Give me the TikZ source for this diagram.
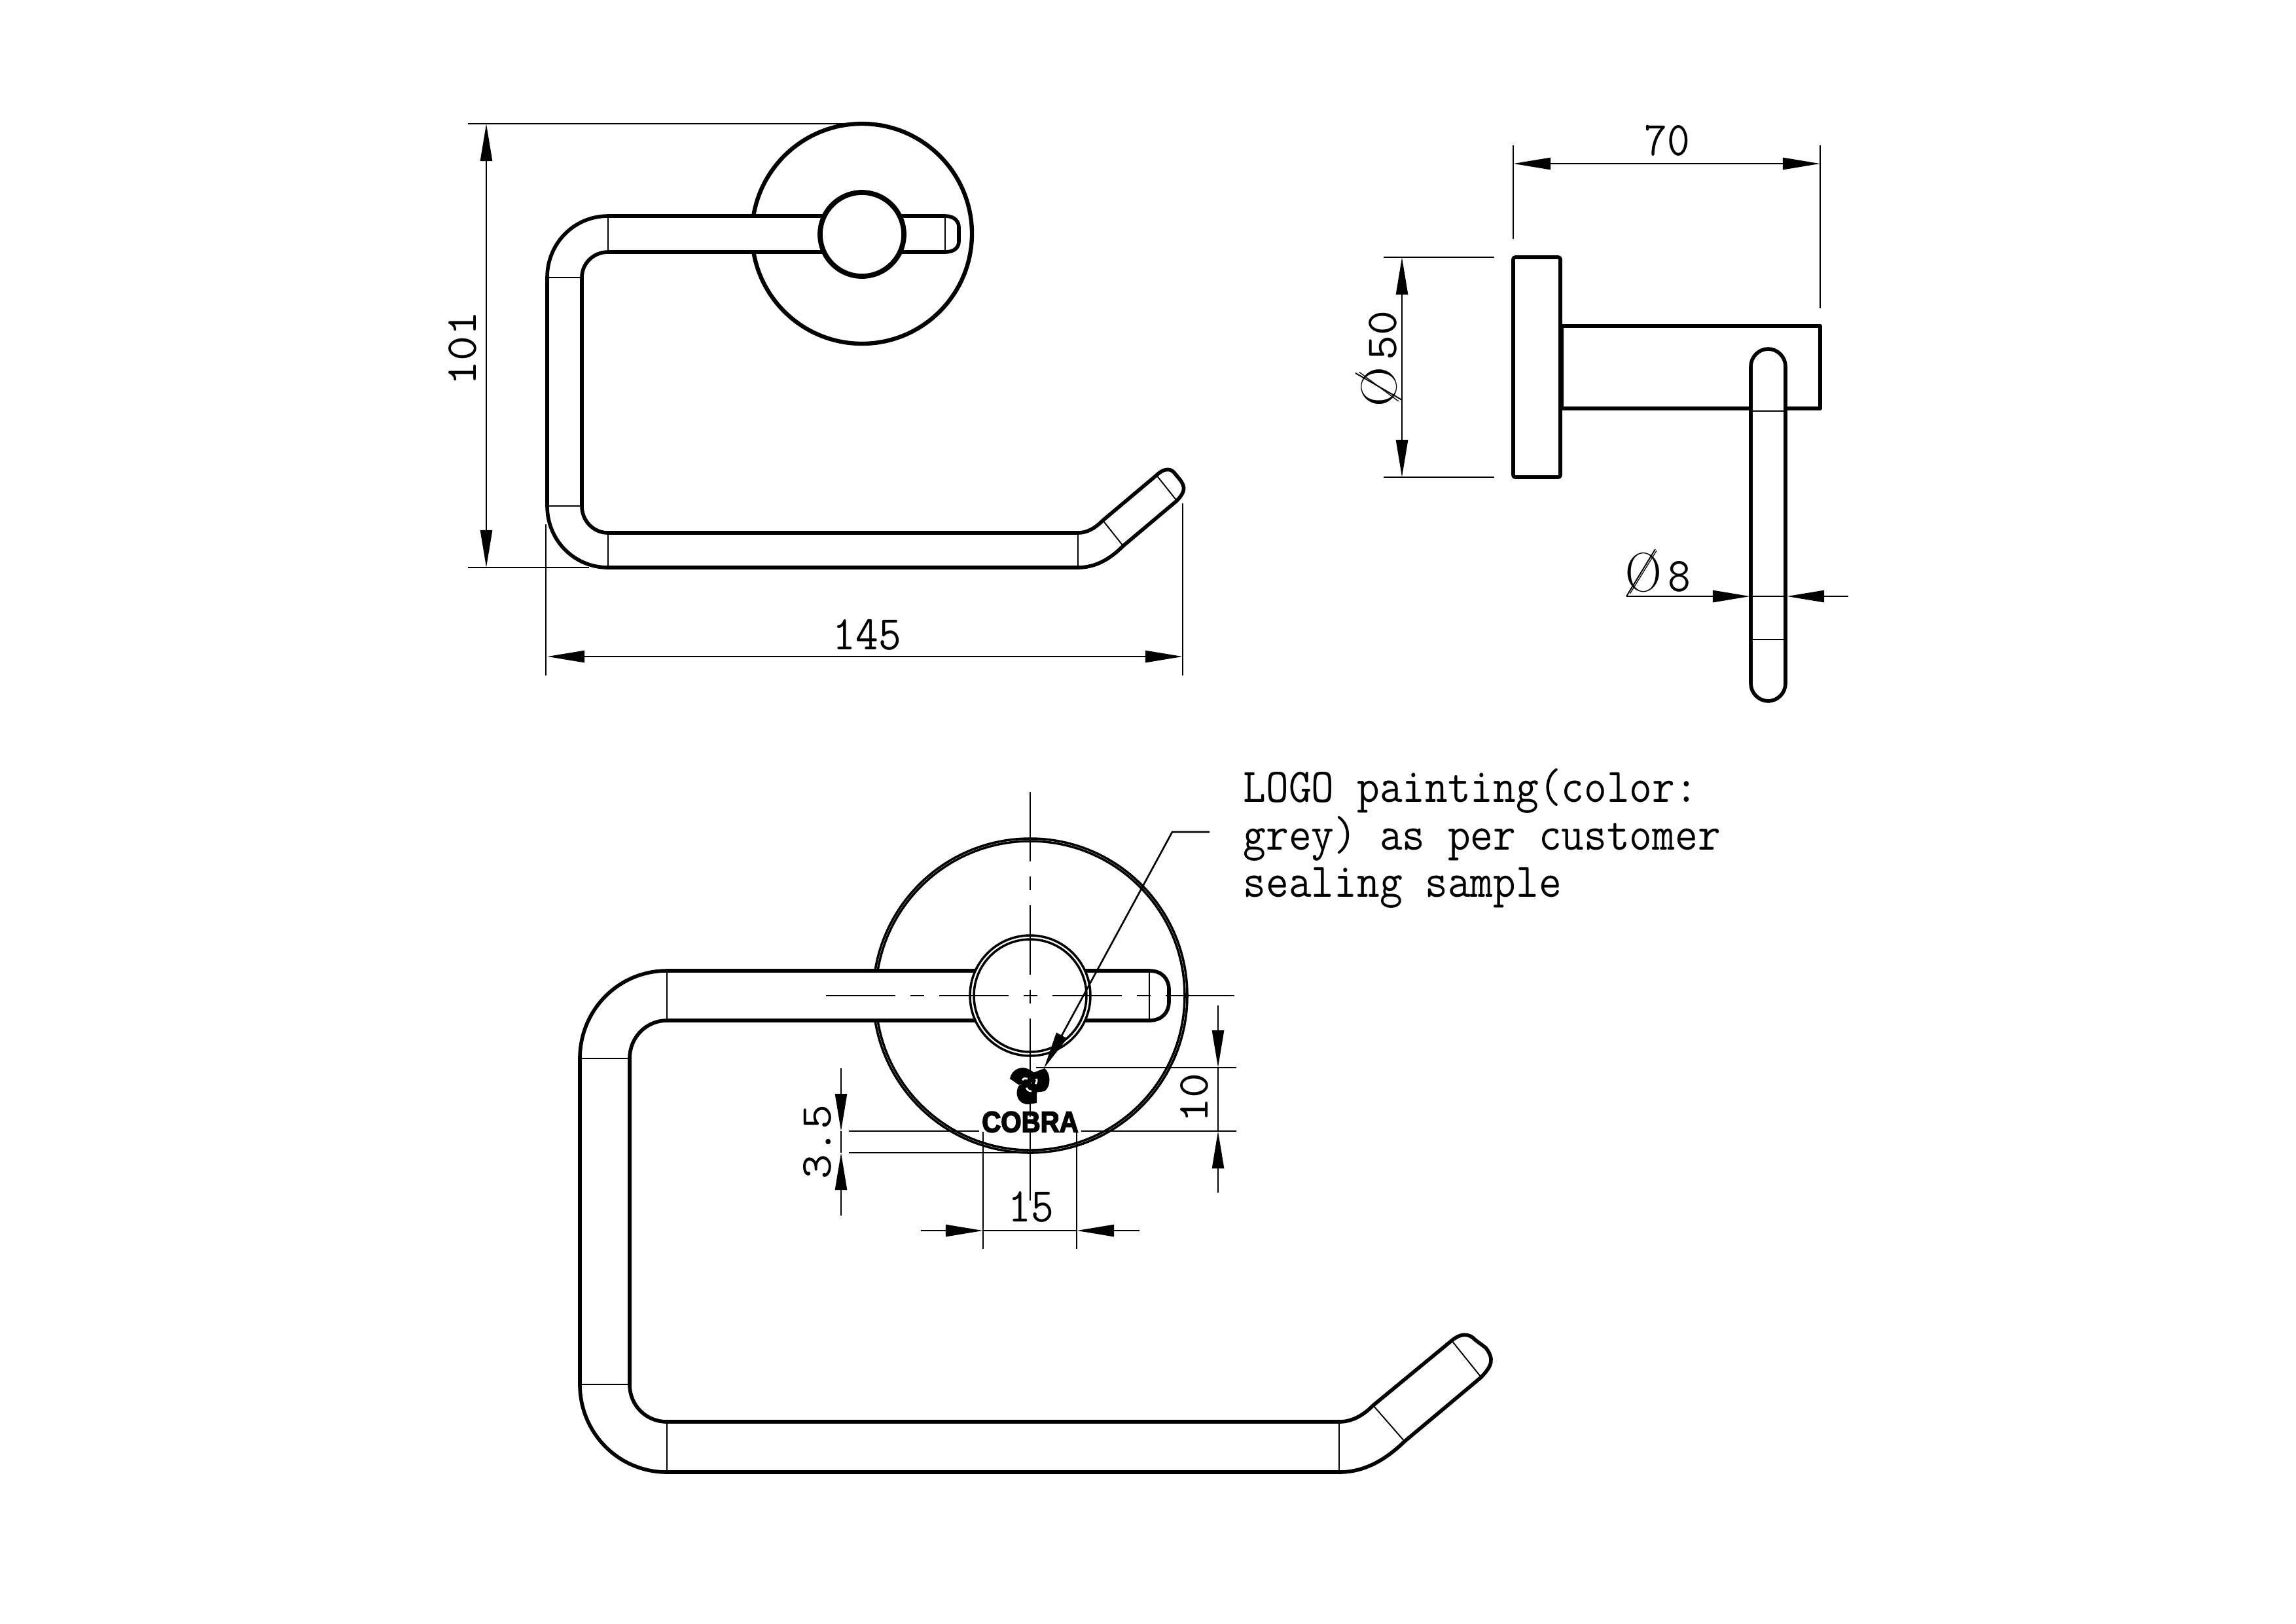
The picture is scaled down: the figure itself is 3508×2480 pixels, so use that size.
\documentclass[tikz,border=0pt]{standalone}
\usepackage{fontspec}
\usetikzlibrary{arrows.meta}
\newfontfamily\cobrafont[FakeBold=4]{Liberation Sans Bold}
\tikzset{
	>={Triangle[length=5.7mm,width=1.8mm]},
	part/.style={line width=1.6pt, line join=round},
	seam/.style={line width=0.55pt},
	dimline/.style={line width=0.75pt},
	ringline/.style={line width=1pt},
	centreline/.style={line width=0.7pt, dash pattern=on 10.6mm off 2.3mm on 2.1mm off 2.3mm},
	dimtext/.style={inner sep=0pt, xscale=0.913, transform shape, font=\ttfamily\fontsize{21}{20.5}\selectfont},
}
\newcommand{\dia}{{\rmfamily\fontsize{24}{24}\selectfont Ø}}
\begin{document}
\begin{tikzpicture}[x=0.01cm, y=-0.01cm]
		\useasboundingbox (0, 0) rectangle (3508, 2480);
		%% front view, small
		\draw[part, line width=1.8pt] (1317, 357) circle (168);
		\draw[part, fill=white] (1444, 330) -- (929, 330) .. controls (877, 330) and (836, 372) .. (836, 424) -- (836, 773) .. controls (836, 825) and (877, 867) .. (929, 867) -- (1647, 867) .. controls (1675, 867) and (1697, 853) .. (1716, 834) -- (1798, 765) .. controls (1810, 752) and (1812, 745) .. (1803, 733) -- (1794, 722) .. controls (1787, 714) and (1776, 717) .. (1767, 726) -- (1685, 795) .. controls (1672, 808) and (1660, 814) .. (1647, 814) -- (929, 814) .. controls (907, 814) and (889, 796) .. (889, 773) -- (889, 424) .. controls (889, 402) and (907, 385) .. (929, 385) -- (1444, 385) .. controls (1458, 385) and (1465, 378) .. (1465, 369) -- (1465, 347) .. controls (1465, 338) and (1458, 330) .. (1444, 330) -- cycle;
		\draw[part, line width=2.2pt, fill=white] (1317, 358) circle (64);
		\draw[seam] (929, 330) -- (929, 385);
		\draw[seam] (836, 424) -- (889, 424);
		\draw[seam] (836, 773) -- (889, 773);
		\draw[seam] (929, 814) -- (929, 867);
		\draw[seam] (1647, 814) -- (1647, 867);
		\draw[seam] (1685, 795) -- (1716, 834);
		\draw[seam] (1767, 726) -- (1798, 765);
		\draw[seam] (1444, 330) -- (1444, 385);
		%%
		\draw[dimline] (715, 189) -- (1289, 189);
		\draw[dimline] (715, 867) -- (900, 867);
		\draw[dimline, <->] (743, 189) -- (743, 867);
		\node[dimtext, rotate=90] (lblheight) at (707, 532) {101};
		\draw[dimline] (834, 801) -- (834, 1032);
		\draw[dimline] (1807, 769) -- (1807, 1032);
		\draw[dimline, <->] (836, 1003) -- (1807, 1003);
		\node[dimtext] (lblwidth) at (1325, 970) {145};
		%% side view
		\draw[part, rounded corners=0.3mm] (2312, 393) rectangle (2384, 729);
		\draw[part] (2386, 498) -- (2781, 498) -- (2781, 624) -- (2386, 624) -- cycle;
		\draw[part, fill=white, rounded corners=2.7mm] (2675, 533) rectangle (2728, 1071);
		\draw[seam] (2675, 628) -- (2728, 628);
		\draw[seam] (2675, 977) -- (2728, 977);
		%%
		\draw[dimline] (2312, 222) -- (2312, 365);
		\draw[dimline] (2781, 222) -- (2781, 471);
		\draw[dimline, <->] (2312, 250) -- (2781, 250);
		\node[dimtext] (lbldepth) at (2547, 215) {70};
		\draw[dimline] (2114, 393) -- (2283, 393);
		\draw[dimline] (2114, 729) -- (2283, 729);
		\draw[dimline, <->] (2142, 393) -- (2142, 729);
		\node[dimtext, rotate=90] (lblplate) at (2107, 548) {\dia\kern3pt 50};
		\draw[seam] (2071, 570) -- (2142, 611);
		\draw[dimline, ->] (2485, 911) -- (2674, 911);
		\draw[dimline, ->] (2824, 911) -- (2730, 911);
		\draw[seam] (2674, 911) -- (2730, 911);
		\node[dimtext] (lblrod) at (2533, 875) {\dia\kern3pt 8};
		\draw[seam] (2485, 911) -- (2529, 839);
		%% front view, large
		\draw[ringline] (1574, 1521) circle (240);
		\draw[ringline] (1574, 1521) circle (236);
		\draw[part, fill=white] (1756, 1483) -- (1019, 1483) .. controls (945, 1483) and (886, 1543) .. (886, 1617) -- (886, 2115) .. controls (886, 2189) and (945, 2249) .. (1019, 2249) -- (2046, 2249) .. controls (2086, 2249) and (2118, 2229) .. (2146, 2202) -- (2263, 2104) .. controls (2280, 2086) and (2283, 2076) .. (2270, 2059) -- (2254, 2047) .. controls (2243, 2035) and (2230, 2038) .. (2218, 2048) -- (2098, 2147) .. controls (2080, 2165) and (2063, 2172) .. (2046, 2172) -- (1019, 2172) .. controls (987, 2172) and (962, 2147) .. (962, 2115) -- (962, 1617) .. controls (962, 1585) and (987, 1559) .. (1019, 1559) -- (1756, 1559) .. controls (1775, 1559) and (1786, 1547) .. (1786, 1530) -- (1786, 1512) .. controls (1786, 1495) and (1775, 1483) .. (1756, 1483) -- cycle;
		\draw[ringline, fill=white] (1574, 1521) circle (92);
		\draw[ringline] (1574, 1521) circle (86);
		\draw[seam] (1019, 1483) -- (1019, 1559);
		\draw[seam] (886, 1617) -- (962, 1617);
		\draw[seam] (886, 2115) -- (962, 2115);
		\draw[seam] (1019, 2172) -- (1019, 2249);
		\draw[seam] (2046, 2172) -- (2046, 2249);
		\draw[seam] (2098, 2147) -- (2146, 2202);
		\draw[seam] (2218, 2048) -- (2263, 2104);
		\draw[seam] (1756, 1483) -- (1756, 1559);
		%%
		\draw[centreline] (1262, 1521) -- (1886, 1521);
		\draw[centreline] (1574, 1210) -- (1574, 1834);
		%% logo
		\fill (1543, 1648) .. controls (1545, 1634) and (1562, 1624) .. (1579, 1638) -- (1590, 1652) -- (1556, 1657) -- cycle;
		\fill (1578, 1639) -- (1596, 1632) .. controls (1606, 1640) and (1606, 1660) .. (1596, 1667) -- (1575, 1670) -- cycle;
		\fill (1557, 1658) .. controls (1549, 1670) and (1555, 1688) .. (1572, 1687) -- (1584, 1685) -- (1584, 1660) -- (1570, 1652) -- cycle;
		\draw[white, line width=0.8pt] (1562, 1650) .. controls (1564, 1647) and (1567, 1647) .. (1570, 1648);
		\draw[white, line width=0.8pt] (1583, 1648) .. controls (1585, 1651) and (1584, 1654) .. (1582, 1656);
		\draw[white, line width=0.8pt] (1568, 1662) .. controls (1569, 1665) and (1572, 1667) .. (1576, 1667);
		\node[inner sep=0pt, xscale=0.9, transform shape, font=\cobrafont\fontsize{12.7}{14}\selectfont] (lblcobra) at (1574, 1714) {COBRA};
		%% logo dimensions
		\draw[dimline] (1583, 1631) -- (1889, 1631);
		\draw[dimline] (1652, 1728) -- (1889, 1728);
		\draw[dimline, ->] (1861, 1536) -- (1861, 1631);
		\draw[dimline, ->] (1861, 1822) -- (1861, 1728);
		\draw[dimline] (1861, 1631) -- (1861, 1728);
		\node[dimtext, rotate=90] (lblten) at (1825, 1677) {10};
		%%
		\draw[dimline] (1297, 1728) -- (1496, 1728);
		\draw[dimline] (1297, 1761) -- (1595, 1761);
		\draw[dimline, ->] (1285, 1632) -- (1285, 1728);
		\draw[dimline, ->] (1285, 1857) -- (1285, 1761);
		\draw[dimline] (1285, 1728) -- (1285, 1761);
		\node[dimtext, rotate=90] (lblgap) at (1249, 1744) {3.5};
		%%
		\draw[dimline] (1502, 1729) -- (1502, 1908);
		\draw[dimline] (1645, 1729) -- (1645, 1908);
		\draw[dimline, ->] (1407, 1880) -- (1502, 1880);
		\draw[dimline, ->] (1741, 1880) -- (1645, 1880);
		\draw[dimline] (1502, 1880) -- (1645, 1880);
		\node[dimtext] (lblfifteen) at (1575, 1844) {15};
		%% note
		\coordinate (notebend) at (1791, 1271);
		\node[dimtext, anchor=north west, align=left] (lblnote) at (1899, 1174) {LOGO painting(color:\\grey) as per customer\\sealing sample};
		\draw[dimline, ->] (1848, 1271) -- (notebend) -- (1595, 1632);
\end{tikzpicture}
\end{document}
